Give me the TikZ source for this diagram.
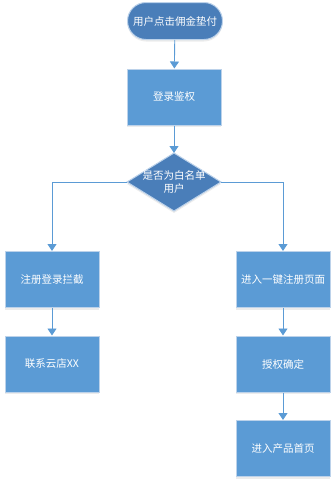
\documentclass[tikz,border=0pt]{standalone}
\usepackage{fontspec}
\newfontfamily\cjk{Noto Sans CJK SC}
\usetikzlibrary{shapes.geometric,shapes.misc,arrows.meta,shadows}
\definecolor{boxblue}{HTML}{5B9BD5}
\definecolor{darkblue}{HTML}{4A7EB9}
\definecolor{edgeblue}{HTML}{BCD2EA}
\definecolor{linkblue}{HTML}{5B9BD5}
\tikzset{
  softshadow/.style={drop shadow={shadow xshift=0pt, shadow yshift=-2pt, fill=black!12, opacity=0.6}},
  labeltext/.style={text=white, font=\cjk\fontsize{10.5}{12.5}\selectfont, align=center, inner sep=0pt},
  base/.style={draw=edgeblue, line width=1pt, labeltext, softshadow},
  procbox/.style={base, rectangle, fill=boxblue, minimum width=94pt, minimum height=56pt},
  startbox/.style={base, rounded rectangle, fill=darkblue, minimum width=95pt, minimum height=37pt},
  link/.style={draw=linkblue, line width=0.9pt, -{Triangle[length=7pt,width=9pt]}}
}
\begin{document}
\begin{tikzpicture}[x=1pt,y=-1pt]
\useasboundingbox (0,0) rectangle (335,485);
\node[startbox] (start) at (175,21) {用户点击佣金垫付};
\node[procbox] (auth) at (174,97) {登录鉴权};
\coordinate (dl) at (127,182);
\coordinate (dr) at (221,182);
\coordinate (dt) at (174,153);
\coordinate (db) at (174,211);
\draw[draw=edgeblue, line width=1pt, fill=darkblue, softshadow] (dl) -- (dt) -- (dr) -- (db) -- cycle;
\node[labeltext] (dectext) at (174,182) {是否为白名单\\用户};
\node[procbox] (intercept) at (52,279.5) {注册登录拦截};
\node[procbox] (contact) at (52,364) {联系云店XX};
\node[procbox] (onekey) at (283,279.5) {进入一键注册页面};
\node[procbox] (grant) at (283,364) {授权确定};
\node[procbox] (home) at (283,448.5) {进入产品首页};
\draw[link] (start) -- (auth);
\draw[link] (auth) -- (dt);
\draw[link] (dl) -| (intercept);
\draw[link] (dr) -| (onekey);
\draw[link] (intercept) -- (contact);
\draw[link] (onekey) -- (grant);
\draw[link] (grant) -- (home);
\end{tikzpicture}
\end{document}
